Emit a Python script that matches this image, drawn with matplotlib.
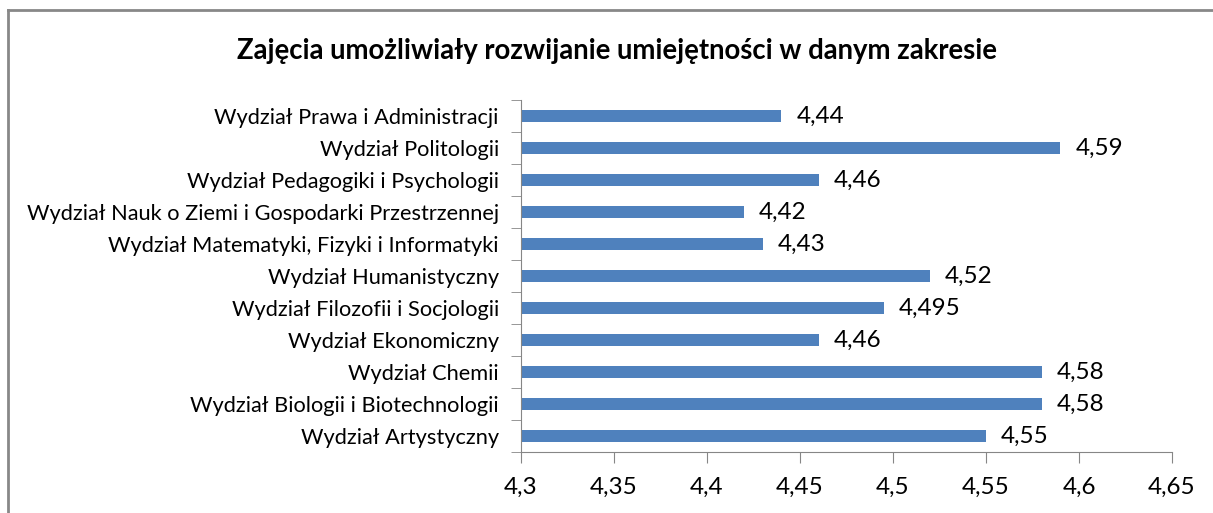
import matplotlib.pyplot as plt
from matplotlib.lines import Line2D
from matplotlib.ticker import FixedLocator

# bottom to top, as drawn
wydzialy = [
    'Wydział Artystyczny',
    'Wydział Biologii i Biotechnologii',
    'Wydział Chemii',
    'Wydział Ekonomiczny',
    'Wydział Filozofii i Socjologii',
    'Wydział Humanistyczny',
    'Wydział Matematyki, Fizyki i Informatyki',
    'Wydział Nauk o Ziemi i Gospodarki Przestrzennej',
    'Wydział Pedagogiki i Psychologii',
    'Wydział Politologii',
    'Wydział Prawa i Administracji',
]
oceny = [4.55, 4.58, 4.58, 4.46, 4.495, 4.52, 4.43, 4.42, 4.46, 4.59, 4.44]
x_ticks = [4.3, 4.35, 4.4, 4.45, 4.5, 4.55, 4.6, 4.65]
tytul = 'Zajęcia umożliwiały rozwijanie umiejętności w danym zakresie'

plt.rcParams['font.family'] = ['Lato', 'DejaVu Sans']
axis_col = '#868686'


def pl(v):
    s = ('%.3f' % v).rstrip('0').rstrip('.')
    return s.replace('.', ',')


fig = plt.figure(figsize=(12.13, 5.13), dpi=100)
ax = fig.add_axes([0.4295, 0.119, 0.5367, 0.686])

pos = list(range(len(wydzialy)))
ax.barh(pos, oceny, height=0.4, color='#4F81BD')
for p, v in zip(pos, oceny):
    ax.text(v + 0.008, p, pl(v), va='center', ha='left', fontsize=17.5)

ax.set_xlim(4.3, 4.65)
ax.set_ylim(-0.5, len(wydzialy) - 0.5)
ax.set_xticks(x_ticks)
ax.set_xticklabels([pl(t) for t in x_ticks], fontsize=17.5)
ax.set_yticks(pos)
ax.set_yticklabels(wydzialy, fontsize=15.7)
ax.yaxis.set_minor_locator(FixedLocator([p - 0.5 for p in range(len(wydzialy) + 1)]))

ax.tick_params(axis='y', which='major', length=0, pad=16)
ax.tick_params(axis='y', which='minor', length=7, color=axis_col)
ax.tick_params(axis='x', length=8, color=axis_col, pad=10)

for s in ['top', 'right']:
    ax.spines[s].set_visible(False)
for s in ['left', 'bottom']:
    ax.spines[s].set_color(axis_col)

fig.text(0.509, 0.9, tytul, ha='center', va='center', fontsize=19.8, fontweight='bold')

# chart frame: only top and left edges are inside the picture
x0 = 7.5 / 1213
y0 = 1 - 10 / 513
fig.add_artist(Line2D([x0, 1.0], [y0, y0], transform=fig.transFigure,
                      color='#888888', linewidth=2))
fig.add_artist(Line2D([x0, x0], [0.0, y0], transform=fig.transFigure,
                      color='#888888', linewidth=2))

fig.savefig('out.png', dpi=100)
